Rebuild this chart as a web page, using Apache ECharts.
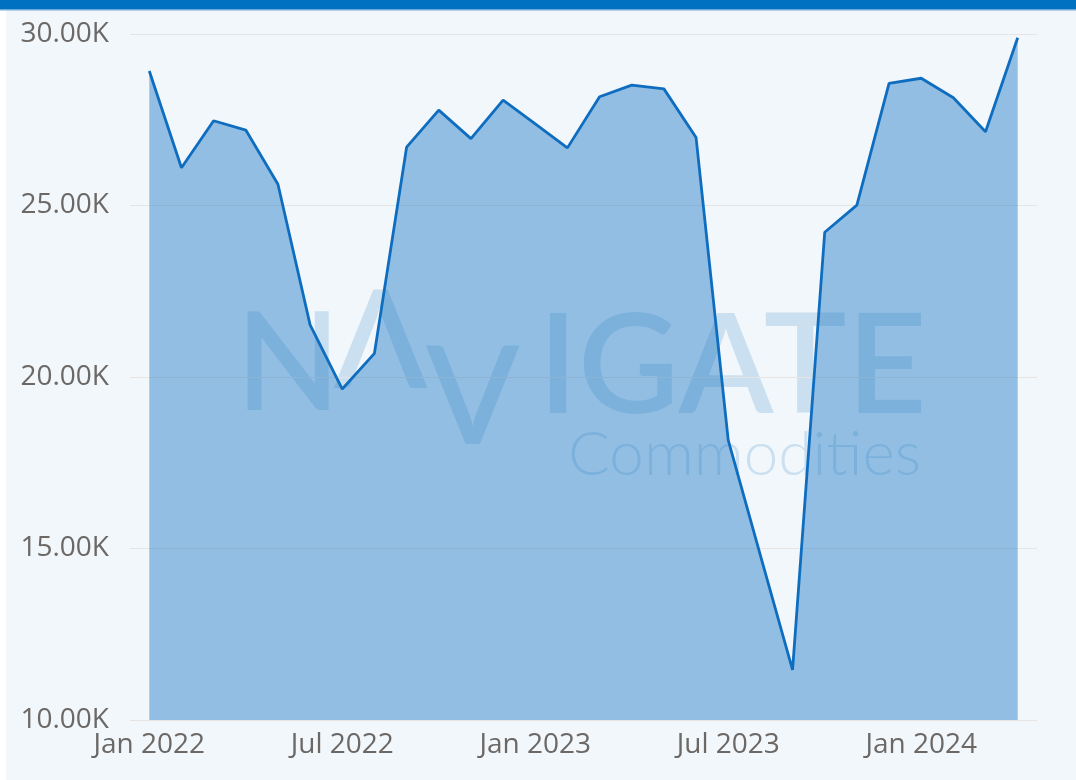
<!DOCTYPE html>
<html>
<head>
<meta charset="utf-8">
<script src="https://cdn.jsdelivr.net/npm/echarts@6/dist/echarts.min.js"></script>
<style>
html,body{margin:0;padding:0;background:#ffffff;}
#chart{width:1076px;height:780px;}
</style>
</head>
<body>
<div id="chart"></div>
<script>
// ---- data ----
const months = [
  'Jan 2022','Feb 2022','Mar 2022','Apr 2022','May 2022','Jun 2022',
  'Jul 2022','Aug 2022','Sep 2022','Oct 2022','Nov 2022','Dec 2022',
  'Jan 2023','Feb 2023','Mar 2023','Apr 2023','May 2023','Jun 2023',
  'Jul 2023','Aug 2023','Sep 2023','Oct 2023','Nov 2023','Dec 2023',
  'Jan 2024','Feb 2024','Mar 2024','Apr 2024'
];
const values = [
  28920, 26100, 27470, 27200, 25620, 21520,
  19650, 20690, 26700, 27780, 26950, 28070,
  27380, 26680, 28170, 28510, 28400, 26980,
  18160, 14800, 11460, 24220, 25010, 28560,
  28710, 28140, 27150, 29890
];
const xTickIndices = [0, 6, 12, 18, 24];
const yTicks = [10000, 15000, 20000, 25000, 30000];

// ---- chart ----
const chart = echarts.init(document.getElementById('chart'), null, {renderer: 'canvas'});
const labelColor = '#6b6866';
const font = '"Open Sans", "Noto Sans", sans-serif';
const wm = 'rgba(30,128,195,0.19)';
const wmFont = '600 136px Lato, sans-serif';

const option = {
  backgroundColor: '#ffffff',
  animation: false,
  graphic: [
    {type: 'rect', z: -10, shape: {x: 6, y: 9, width: 1070, height: 771}, style: {fill: '#f2f7fb'}},
    {type: 'rect', z: -9, shape: {x: 0, y: 0, width: 1076, height: 9}, style: {fill: '#0070c0'}},
    {type: 'rect', z: -9, shape: {x: 0, y: 9, width: 1076, height: 1.5}, style: {fill: '#6fa9dc'}},
    // watermark logo
    {type: 'text', z: 0, left: 236, top: 298, style: {text: 'N', font: wmFont, fill: wm}},
    {type: 'text', z: 0, left: 334, top: 276, style: {text: 'Λ', font: wmFont, fill: wm}},
    {type: 'text', z: 0, left: 426, top: 332, style: {text: 'V', font: wmFont, fill: wm}},
    {type: 'text', z: 0, left: 538, top: 299, style: {text: 'IGATE', font: '600 139px Lato, sans-serif', fill: wm}},
    {type: 'text', z: 0, left: 568, top: 424, style: {text: 'Commodities', font: '300 62px Lato, sans-serif', fill: wm}}
  ],
  grid: {left: 130, right: 39, top: 34, bottom: 60, containLabel: false},
  xAxis: {
    type: 'value',
    min: -0.6,
    max: 27.6,
    axisLine: {show: false},
    axisTick: {show: false},
    splitLine: {show: false},
    axisLabel: {
      customValues: xTickIndices,
      formatter: v => months[Math.round(v)] || '',
      color: labelColor,
      fontFamily: font,
      fontSize: 28,
      margin: 11
    }
  },
  yAxis: {
    type: 'value',
    min: 10000,
    max: 30000,
    interval: 5000,
    axisLine: {show: false},
    axisTick: {show: false},
    splitLine: {lineStyle: {color: '#e7e4e4', width: 1.2}},
    axisLabel: {
      formatter: v => (v / 1000).toFixed(2) + 'K',
      color: labelColor,
      fontFamily: font,
      fontSize: 28,
      margin: 21
    }
  },
  series: [{
    type: 'line',
    data: values.map((v, i) => [i, v]),
    showSymbol: false,
    symbol: 'none',
    lineStyle: {color: '#0f6dbf', width: 2.8},
    areaStyle: {color: '#1170c0', opacity: 0.42, origin: 'start'},
    z: 2
  }]
};
chart.setOption(option);
</script>
</body>
</html>
